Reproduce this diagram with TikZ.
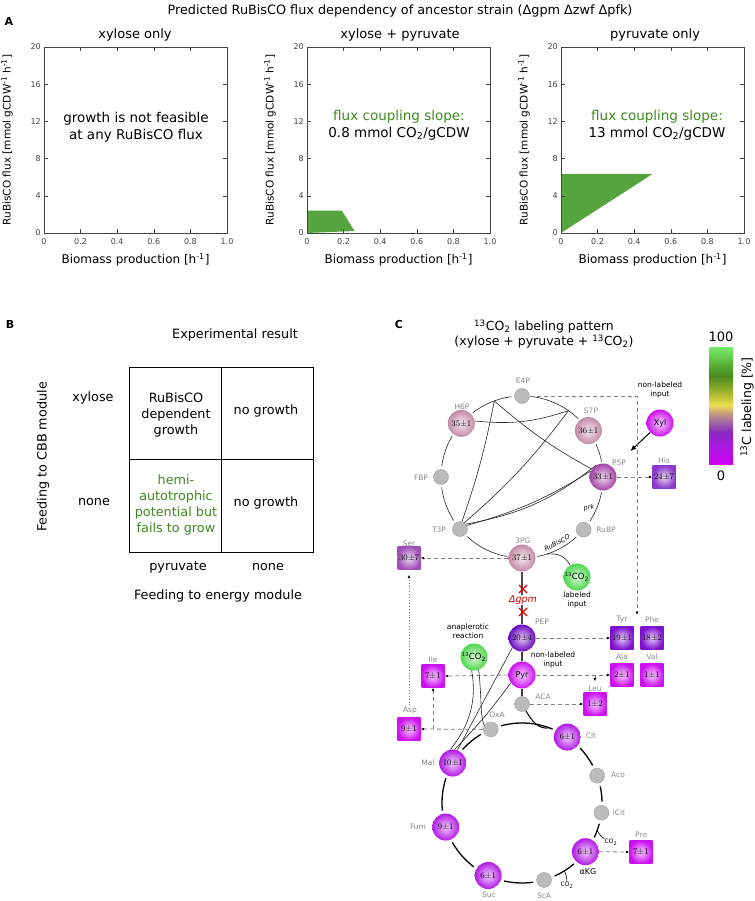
\documentclass[tikz,border=0pt]{standalone}
\usepackage{fontspec}
\setsansfont{DejaVu Sans}
\usetikzlibrary{arrows.meta,calc}
\newcommand\fsz[2]{\fontsize{#1}{#2}\selectfont}
\definecolor{labgray}{HTML}{8A8A8A}
\definecolor{axcol}{HTML}{444444}
\definecolor{pinkC}{HTML}{C48AA6}
\definecolor{p5pC}{HTML}{A444A8}
\definecolor{serC}{HTML}{A050B8}
\definecolor{hisC}{HTML}{8A38C8}
\definecolor{pepC}{HTML}{6A08C0}
\definecolor{tyrC}{HTML}{7E10D0}
\definecolor{magC}{HTML}{CC10F0}
\definecolor{tcaC}{HTML}{B218E6}
\definecolor{grnC}{HTML}{4CD84C}
\definecolor{gcol}{HTML}{BBBBBB}
\definecolor{gcolD}{HTML}{A0A0A0}
\definecolor{dashcol}{HTML}{808080}
\definecolor{plotgreen}{HTML}{55A43F}
\definecolor{txtgreen}{HTML}{3F8A22}
\definecolor{cb0}{HTML}{D000F0}
\definecolor{cb1}{HTML}{A818E0}
\definecolor{cb2}{HTML}{8A28C0}
\definecolor{cb3}{HTML}{A06AA0}
\definecolor{cb4}{HTML}{C8A078}
\definecolor{cb5}{HTML}{EEE050}
\definecolor{cb6}{HTML}{A8B830}
\definecolor{cb7}{HTML}{4A8A1E}
\definecolor{cb8}{HTML}{58B038}
\definecolor{cb9}{HTML}{78EC68}
\begin{document}
\begin{tikzpicture}[x=1pt,y=-1pt,font=\sffamily,
  met/.style={circle, minimum size=27pt, inner sep=0pt, shading=radial, inner color=#1!20!white, outer color=#1, font=\rmfamily\fsz{8.5}{9}},
  gcirc/.style={circle, minimum size=15pt, inner sep=0pt, fill=gcol, draw=gcolD, line width=0.4pt},
  sqn/.style={rectangle, minimum size=23pt, inner sep=0pt, shading=radial, inner color=#1!20!white, outer color=#1, font=\rmfamily\fsz{8.5}{9}},
  nlab/.style={text=labgray, font=\sffamily\fsz{7.5}{9}, inner sep=0pt},
  blab/.style={font=\sffamily\fsz{7.5}{9}, align=center, inner sep=0pt},
  dsh/.style={draw=dashcol, dash pattern=on 4pt off 3pt, line width=0.8pt, -{Latex[length=3.5pt,width=3pt,color=black]}},
  ringC/.style={draw=black!85, line width=0.6pt},
  ringT/.style={draw=black, line width=1.3pt},
  ticklbl/.style={font=\sffamily\fsz{8}{9}, text=axcol, inner sep=0pt},
  axlbl/.style={font=\sffamily\fsz{12}{14}, inner sep=0pt},
  blk/.style={font=\sffamily\fsz{12.8}{16}, align=center, inner sep=0pt},
  plet/.style={font=\sffamily\bfseries\fsz{11}{13}, inner sep=0pt}
]
\useasboundingbox (0,0) rectangle (754,901);
\fill[white] (0,0) rectangle (754,901);

% ================= Panel A =================
\node[plet] (lA) at (9,21) {A};
\node[font=\sffamily\fsz{12.8}{15}] (titA) at (400,11) {Predicted RuBisCO flux dependency of ancestor strain (Δgpm Δzwf Δpfk)};
\node[font=\sffamily\fsz{13}{15}] (t1) at (135,35) {xylose only};
\node[font=\sffamily\fsz{13}{15}] (t2) at (400,35) {xylose + pyruvate};
\node[font=\sffamily\fsz{13}{15}] (t3) at (655,35) {pyruvate only};

% green regions
\fill[plotgreen] (307,233) -- (307,210.7) -- (341.8,210.7) -- (354.6,231) -- cycle;
\fill[plotgreen] (561,233) -- (561,174) -- (652.5,174) -- cycle;

\foreach \xo in {44,307,561} {
  \draw[axcol, line width=0.7pt] (\xo,47) rectangle ++(183,186);
  \foreach \i in {1,...,4} {
    \draw[axcol, line width=0.5pt] (\xo+\i*36.6,233) -- ++(0,-4);
    \draw[axcol, line width=0.5pt] (\xo+\i*36.6,47) -- ++(0,4);
  }
  \foreach \j in {1,...,4} {
    \draw[axcol, line width=0.5pt] (\xo,233-\j*37.2) -- ++(4,0);
    \draw[axcol, line width=0.5pt] (\xo+183,233-\j*37.2) -- ++(-4,0);
  }
  \foreach \v [count=\j from 0] in {0,4,8,12,16,20}
    \node[ticklbl, anchor=east] at (\xo-3,233-\j*37.2) {\v};
  \foreach \v [count=\i from 0] in {0,0.2,0.4,0.6,0.8,1.0}
    \node[ticklbl] at (\xo+\i*36.6,242) {\v};
  \node[axlbl] at (\xo+91.5,260) {Biomass production [h\textsuperscript{-1}]};
  \node[font=\sffamily\fsz{10.5}{12}, inner sep=0pt, rotate=90] at (\xo-37,140) {RuBisCO flux [mmol gCDW\textsuperscript{-1} h\textsuperscript{-1}]};
}

\node[font=\sffamily\fsz{13.5}{17}, align=center] (nf) at (136,127) {growth is not feasible\\at any RuBisCO flux};
\node[font=\sffamily\fsz{13.5}{17}, align=center] (fc2) at (399,125) {\textcolor{txtgreen}{flux coupling slope:}\\0.8 mmol CO\textsubscript{2}/gCDW};
\node[font=\sffamily\fsz{13.5}{17}, align=center] (fc3) at (657,125) {\textcolor{txtgreen}{flux coupling slope:}\\13 mmol CO\textsubscript{2}/gCDW};

% ================= Panel B =================
\node[plet] (lB) at (10,324) {B};
\node[blk] (expr) at (235,335) {Experimental result};
\draw[line width=0.8pt] (129,367) rectangle (313,552);
\draw[line width=0.8pt] (221,367) -- (221,552);
\draw[line width=0.8pt] (129,459) -- (313,459);
\node[blk] (c11) at (176,415) {RuBisCO\\dependent\\growth};
\node[blk] (c12) at (266,411) {no growth};
\node[blk, text=txtgreen] (c21) at (176,505) {hemi-\\autotrophic\\potential but\\fails to grow};
\node[blk] (c22) at (266,503) {no growth};
\node[blk] (rx) at (93,398) {xylose};
\node[blk] (rn) at (94,502) {none};
\node[blk] (cp) at (178,567) {pyruvate};
\node[blk] (cn) at (268,567) {none};
\node[blk] (fe) at (218,596) {Feeding to energy module};
\node[blk, rotate=90] (fc) at (43,457) {Feeding to CBB module};

% ================= Panel C =================
\node[plet] (lC) at (399,324) {C};
\node[font=\sffamily\fsz{12.5}{15}, align=center] (titC) at (544,334) {\textsuperscript{13}CO\textsubscript{2} labeling pattern\\(xylose + pyruvate + \textsuperscript{13}CO\textsubscript{2})};

% colour bar
\foreach \ya/\yb/\ca/\cbb in {464/446.2/cb0/cb1, 446.45/432.2/cb1/cb2, 432.4/421.7/cb2/cb3, 421.9/412.3/cb3/cb4, 412.5/405.3/cb4/cb5, 405.5/393.6/cb5/cb6, 393.8/376.0/cb6/cb7, 376.25/364.3/cb7/cb8, 364.55/347/cb8/cb9}
  \shade[bottom color=\ca, top color=\cbb] (709,\ya) rectangle (733,\yb);
\node[font=\sffamily\fsz{13}{15}] (c100) at (721,337) {100};
\node[font=\sffamily\fsz{13}{15}] (c0) at (721,476) {0};
\node[font=\sffamily\fsz{12.5}{15}, rotate=90] (clab) at (747,407) {\textsuperscript{13}C labeling [\%]};

% CBB cycle nodes
\coordinate (cbb) at (522,477);
\node[gcirc] (e4p) at ([shift={(270:81)}]cbb) {};
\node[met=pinkC] (h6p) at ([shift={(221.5:81)}]cbb) {35±1};
\node[met=pinkC] (s7p) at ([shift={(325:81)}]cbb) {36±1};
\node[met=p5pC] (p5p) at ([shift={(0:81)}]cbb) {33±1};
\node[gcirc] (rubp) at ([shift={(40.5:81)}]cbb) {};
\node[met=pinkC] (pg3) at ([shift={(90:81)}]cbb) {37±1};
\node[gcirc] (t3p) at ([shift={(140:81)}]cbb) {};
\node[gcirc] (fbp) at ([shift={(180:81)}]cbb) {};

\node[nlab] at (523,381) {E4P};
\node[nlab] at (462,407) {H6P};
\node[nlab] at (591,411) {S7P};
\node[nlab] at (619,463) {P5P};
\node[nlab] at (421,478) {FBP};
\node[nlab] at (439,530) {T3P};
\node[nlab] at (606,530) {RuBP};
\node[nlab] at (523,541) {3PG};

\foreach \a/\b in {187.5/210.5, 232.5/262.5, 277.5/314, 336/349, 11/33, 48/79, 101/132.5, 147.5/172.5}
  \draw[ringC] ([shift={(\a:81)}]cbb) arc[start angle=\a, end angle=\b, radius=81];

\coordinate (cA) at ([shift={(250:81)}]cbb);
\coordinate (cB) at ([shift={(305:81)}]cbb);
\draw[ringC] (cA) to[bend left=4] (t3p.75);
\draw[ringC] (cA) to[bend right=6] (p5p.145);
\draw[ringC] (h6p.10) to[bend right=12] (cB);
\draw[ringC] (t3p.55) to[bend right=6] (cB);
\draw[ringC] (t3p.40) to[bend right=14] (p5p.120);
\draw[ringC] (t3p.28) to[bend right=8] (p5p.155);

\node[font=\sffamily\itshape\fsz{6.5}{7}, rotate=12] (prk) at (589,508) {prk};
\node[font=\sffamily\itshape\fsz{6.5}{7}, rotate=28, inner sep=0pt] (rbc) at (557,543) {RuBisCO};

% inputs
\node[met=magC, font=\sffamily\fsz{8}{9}] (xyl) at (660,423) {Xyl};
\node[blab] (nli1) at (660,390) {non-labeled\\input};
\draw[line width=1pt, -{Latex[length=6pt,width=5pt]}, shorten >=24pt] (xyl) -- (p5p);

\node[met=grnC, font=\sffamily\fsz{8.5}{9}] (cin) at (577,577) {\textsuperscript{\fsz{5}{5}13}CO\textsubscript{2}};
\node[blab] (lin) at (577,600) {labeled\\input};
\coordinate (rbj) at ([shift={(72:81)}]cbb);
\draw[ringC] (cin.120) .. controls (565,556) and (558,553) .. (rbj);

% amino acid squares top
\node[sqn=serC] (ser) at (409,558) {30±7};
\node[nlab] at (409,544) {Ser};
\node[sqn=hisC] (his) at (664,477) {24±7};
\node[nlab] at (664,461) {His};

\draw[dsh] (pg3.west) -- (ser.east);
\draw[dsh] (p5p.east) -- (his.west);
\coordinate (e4pc) at (637,396);
\coordinate (tp) at (637,615);
\draw[dsh] (e4p.east) -- (e4pc) -- (tp);

% gpm deletion
\node[met=pepC] (pep) at (522,638) {20±4};
\node[nlab] at (542,622) {PEP};
\draw[line width=1.5pt, black!70] (pg3.south) -- (pep.north);
\node[fill=white, text=red!85!black, font=\sffamily\itshape\fsz{9.5}{11}, inner sep=1pt] (dg) at (523,600) {Δgpm};
\draw[red!85!black, line width=1.3pt] (519,585) -- (527,593) (519,593) -- (527,585);
\draw[red!85!black, line width=1.3pt] (519,608) -- (527,616) (519,616) -- (527,608);

\node[sqn=tyrC] (tyr) at (622,638) {19±1};
\node[sqn=tyrC] (phe) at (652,638) {18±2};
\node[sqn=magC] (ala) at (622,675) {2±1};
\node[sqn=magC] (val) at (652,675) {1±1};
\node[nlab] at (622,620) {Tyr};
\node[nlab] at (652,620) {Phe};
\node[nlab] at (622,657) {Ala};
\node[nlab] at (652,657) {Val};

\node[met=magC, font=\sffamily\fsz{8}{9}] (pyr) at (522,675) {Pyr};
\node[blab] (nli2) at (553,660) {non-labeled\\input};
\node[met=grnC, font=\sffamily\fsz{8.5}{9}] (can) at (474,657) {\textsuperscript{\fsz{5}{5}13}CO\textsubscript{2}};
\node[blab] (anr) at (468,631) {anaplerotic\\reaction};
\node[gcirc] (aca) at (522,704) {};
\node[nlab] at (543,697) {ACA};

\node[sqn=magC] (ile) at (433,676) {7±1};
\node[nlab] at (433,660) {Ile};
\node[sqn=magC] (leu) at (595,704) {1±2};
\node[nlab] at (595,689) {Leu};
\node[sqn=magC] (asp) at (409,729) {9±1};
\node[nlab] at (410,711) {Asp};

\draw[line width=1.2pt, black!75] (pep.south) -- (pyr.north);
\draw[line width=1.2pt, black!75] (pyr.south) -- (aca.north);
\draw[dsh] (pep.east) -- (tyr.west);
\draw[dsh] (pyr.east) -- (ala.west);
\draw[dsh] (pyr.west) -- (ile.east);
\coordinate (brLeu) at (595,675);
\draw[dsh, shorten >=11pt] (brLeu) -- (leu.north);
\draw[dsh] (aca.east) -- (leu.west);

% TCA cycle
\coordinate (tca) at (522,803);
\node[gcirc] (oxa) at ([shift={(247:80)}]tca) {};
\node[met=tcaC] (cit) at ([shift={(304.5:80)}]tca) {6±1};
\node[gcirc] (aco) at ([shift={(340:80)}]tca) {};
\node[gcirc] (icit) at ([shift={(7:80)}]tca) {};
\node[met=tcaC] (akg) at ([shift={(37.5:80)}]tca) {6±1};
\node[gcirc] (sca) at ([shift={(74:80)}]tca) {};
\node[met=tcaC] (suc) at ([shift={(115:80)}]tca) {6±1};
\node[met=tcaC] (fum) at ([shift={(162.5:80)}]tca) {9±1};
\node[met=tcaC] (mal) at ([shift={(210:80)}]tca) {10±1};

\node[nlab] at (497,715) {OxA};
\node[nlab] at (591,736) {Cit};
\node[nlab] at (618,775) {Aco};
\node[nlab] at (619,813) {iCit};
\node[font=\sffamily\fsz{8}{9}, inner sep=0pt] at (588,872) {αKG};
\node[nlab] at (544,896) {ScA};
\node[nlab] at (489,895) {Suc};
\node[nlab] at (418,827) {Fum};
\node[nlab] at (428,763) {Mal};

\foreach \a/\b in {255/292.5, 316.5/332, 348/359, 15/25.5, 49.5/66, 82/103, 127/150.5, 174.5/198, 222/239}
  \draw[ringT] ([shift={(\a:80)}]tca) arc[start angle=\a, end angle=\b, radius=80];

\coordinate (acaj) at ([shift={(290:80)}]tca);
\draw[line width=1pt] (aca.300) to[out=-60, in=190] (acaj);

\node[sqn=magC] (pro) at (641,852) {7±1};
\node[nlab] at (641,835) {Pro};
\draw[dsh] (akg.east) -- (pro.west);
\draw[dsh] (oxa.west) -- (asp.east);
\coordinate (brIle) at (433,729);
\draw[dsh] (brIle) -- (ile.south);
\draw[draw=dashcol, dotted, line width=0.9pt, -{Latex[length=3.5pt,width=3pt,color=black]}, shorten <=12pt, shorten >=5pt] (asp.north) -- (ser.south);

% CO2 release ticks
\coordinate (tk1) at ([shift={(20:80)}]tca);
\coordinate (tk2) at ([shift={(58:80)}]tca);
\node[font=\sffamily\fsz{6}{7}, inner sep=0pt] (co2a) at (611,842) {CO\textsubscript{2}};
\node[font=\sffamily\fsz{6}{7}, inner sep=0pt] (co2b) at (567,885) {CO\textsubscript{2}};
\draw[line width=0.6pt] (tk1) to[bend right=15] (co2a.north west);
\draw[line width=0.6pt] (tk2) to[bend left=10] (co2b.north);

% anaplerotic connections
\draw[ringC] (pep.225) -- (mal.70);
\draw[ringC] (pyr.215) to[bend left=4] (mal.82);
\draw[ringC] (can.260) .. controls (477,700) and (470,725) .. (mal.100);
\draw[ringC] (can.290) .. controls (482,700) and (480,715) .. (oxa.150);
\end{tikzpicture}
\end{document}
